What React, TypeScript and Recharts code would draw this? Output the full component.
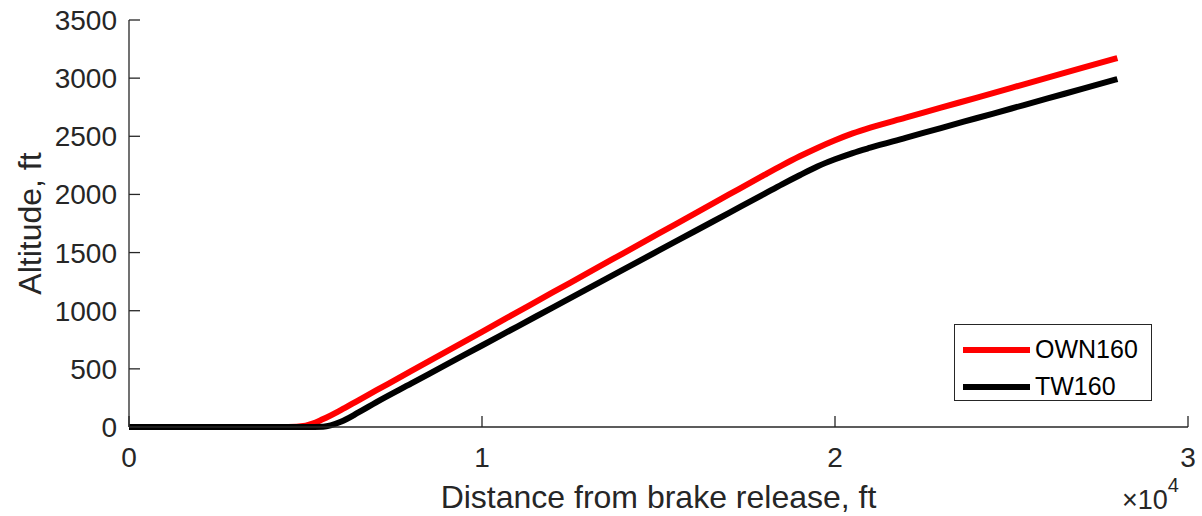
import { LineChart, Line, XAxis, YAxis, Legend } from 'recharts'

const distance = [0, 4500, 5000, 5500, 6000, 6500, 7000, 8000, 9000, 10000, 11000, 12000, 13000, 14000, 15000, 16000, 17000, 18000, 18500, 19000, 19500, 20000, 20500, 21000, 22000, 23000, 24000, 25000, 26000, 27000, 28000]
const own160 = [0, 0, 12, 68, 145, 230, 314, 482, 651, 819, 988, 1157, 1325, 1494, 1663, 1831, 2000, 2168, 2250, 2328, 2400, 2466, 2525, 2575, 2660, 2746, 2831, 2917, 3002, 3088, 3173]
const tw160 = [0, 0, 0, 3, 45, 125, 212, 375, 538, 701, 864, 1027, 1190, 1353, 1516, 1679, 1842, 2005, 2087, 2165, 2240, 2302, 2356, 2402, 2486, 2571, 2655, 2739, 2823, 2908, 2992]

const xTicks = [0, 10000, 20000, 30000]
const yTicks = [0, 500, 1000, 1500, 2000, 2500, 3000, 3500]

const data = distance.map((d, i) => ({ d, own: own160[i], tw: tw160[i] }))

const FONT = '"Liberation Sans", Arial, Helvetica, sans-serif'
const AXIS = '#262626'

function BottomTick(props: any) {
  const { x, y, payload } = props
  return (
    <g>
      <line x1={x} y1={y} x2={x} y2={y - 11} stroke={AXIS} strokeWidth={1.3} />
      <text x={x} y={y + 40} textAnchor="middle" fontSize={28} fill={AXIS} fontFamily={FONT}>
        {payload.value / 10000}
      </text>
    </g>
  )
}

function TopTick(props: any) {
  const { x, y } = props
  return <line x1={x} y1={y} x2={x} y2={y + 11} stroke={AXIS} strokeWidth={1.3} />
}

function LeftTick(props: any) {
  const { x, y, payload } = props
  return (
    <g>
      <line x1={x} y1={y} x2={x + 11} y2={y} stroke={AXIS} strokeWidth={1.3} />
      <text x={x - 12} y={y + 10} textAnchor="end" fontSize={28} fill={AXIS} fontFamily={FONT}>
        {payload.value}
      </text>
    </g>
  )
}

function RightTick(props: any) {
  const { x, y } = props
  return <line x1={x} y1={y} x2={x - 11} y2={y} stroke={AXIS} strokeWidth={1.3} />
}

function LegendBox() {
  const items = [
    { name: 'OWN160', color: '#ff0000' },
    { name: 'TW160', color: '#000000' },
  ]
  return (
    <div
      style={{
        width: 198,
        height: 77,
        border: '1px solid #262626',
        background: '#fff',
        boxSizing: 'border-box',
        padding: '6px 0 0 8px',
        fontFamily: FONT,
        fontSize: 25,
        color: '#000',
        lineHeight: '37px',
      }}
    >
      {items.map((it) => (
        <div key={it.name} style={{ display: 'flex', alignItems: 'center' }}>
          <span style={{ display: 'inline-block', width: 67, height: 6, background: it.color, marginRight: 5 }} />
          {it.name}
        </div>
      ))}
    </div>
  )
}

export default function App() {
  return (
    <div style={{ width: 1202, height: 516, position: 'relative', background: '#fff' }}>
      <style>{'body{margin:0}'}</style>
      <LineChart width={1202} height={516} data={data} margin={{ top: 20, right: 14, bottom: 0, left: 0 }}>
        <XAxis
          dataKey="d"
          type="number"
          domain={[0, 30000]}
          ticks={xTicks}
          height={89}
          tickSize={0}
          tickMargin={0}
          tickLine={false}
          tick={<BottomTick />}
          axisLine={{ stroke: AXIS, strokeWidth: 1.3 }}
          interval={0}
          label={{
            content: (p: any) => {
              const vb = p.viewBox
              return (
                <g>
                  <text x={vb.x + vb.width / 2} y={vb.y + 81} textAnchor="middle" fontSize={32} fill={AXIS} fontFamily={FONT}>
                    Distance from brake release, ft
                  </text>
                  <text x={vb.x + vb.width - 66} y={vb.y + 82} fontSize={27} fill={AXIS} fontFamily={FONT}>
                    ×10
                    <tspan dy={-17} fontSize={20}>4</tspan>
                  </text>
                </g>
              )
            },
          }}
        />
        <XAxis
          xAxisId="top"
          dataKey="d"
          type="number"
          orientation="top"
          domain={[0, 30000]}
          ticks={xTicks}
          height={0}
          tickSize={0}
          tickMargin={0}
          tickLine={false}
          tick={<TopTick />}
          axisLine={{ stroke: AXIS, strokeWidth: 1.3 }}
          interval={0}
        />
        <YAxis
          type="number"
          domain={[0, 3500]}
          ticks={yTicks}
          width={129}
          tickSize={0}
          tickMargin={0}
          tickLine={false}
          tick={<LeftTick />}
          axisLine={{ stroke: AXIS, strokeWidth: 1.3 }}
          interval={0}
          label={{
            content: (p: any) => {
              const vb = p.viewBox
              const cx = vb.x + 30
              const cy = vb.y + vb.height / 2
              return (
                <text x={cx} y={cy} transform={`rotate(-90, ${cx}, ${cy})`} textAnchor="middle" dominantBaseline="central" fontSize={32} fill={AXIS} fontFamily={FONT}>
                  Altitude, ft
                </text>
              )
            },
          }}
        />
        <YAxis
          yAxisId="right"
          orientation="right"
          type="number"
          domain={[0, 3500]}
          ticks={yTicks}
          width={0}
          tickSize={0}
          tickMargin={0}
          tickLine={false}
          tick={<RightTick />}
          axisLine={{ stroke: AXIS, strokeWidth: 1.3 }}
          interval={0}
        />
        <Legend
          content={<LegendBox />}
          layout="horizontal"
          verticalAlign="middle"
          align="center"
          wrapperStyle={{ position: 'absolute', left: 954, top: 324, width: 'auto' }}
        />
        <Line type="monotone" dataKey="own" name="OWN160" stroke="#ff0000" strokeWidth={6} dot={false} isAnimationActive={false} />
        <Line type="monotone" dataKey="tw" name="TW160" stroke="#000000" strokeWidth={6} dot={false} isAnimationActive={false} />
      </LineChart>
    </div>
  )
}
